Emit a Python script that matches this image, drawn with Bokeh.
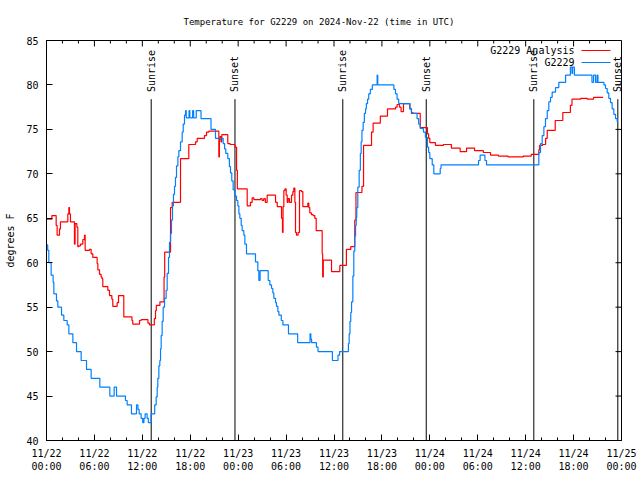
import math
from bokeh.plotting import figure
from bokeh.models import Range1d, Label, Arrow, ColumnDataSource, FixedTicker, LinearAxis
from bokeh.embed import file_html
from bokeh.resources import INLINE
from bokeh.core.properties import value

FONT = "DejaVu Sans Mono"

# ---------------- data (hours since 2024-11-22 00:00 UTC, degrees F) ----------------
obs_t = [0.0, 0.15, 0.29, 0.58, 0.83, 0.92, 1.25, 1.42, 1.88, 2.17, 2.59, 2.80, 3.30, 3.76,
         4.34, 5.01, 5.59, 6.68, 7.93, 8.47, 8.77, 9.89, 10.10, 10.64, 11.27, 11.45, 11.60,
         11.85, 12.05, 12.20, 12.35, 12.60, 12.75, 13.10, 13.55, 13.73, 13.86, 13.94, 14.07,
         14.19, 14.28, 14.36, 14.48, 14.61, 14.78, 14.98, 15.11, 15.28, 15.40, 15.53, 15.65,
         15.78, 15.90, 16.03, 16.15, 16.28, 16.45, 16.57, 16.78, 16.99, 17.12, 17.28, 17.41,
         17.50, 17.85, 17.95, 18.30, 18.42, 18.75, 19.35, 20.60, 21.16, 22.12,
         22.30, 22.45, 22.70, 22.90, 23.04, 23.20, 23.37, 23.58, 23.79, 23.96, 24.09, 24.21,
         24.38, 24.50, 24.71, 24.84, 25.04, 26.17, 26.46, 26.59, 26.75, 27.76, 27.97, 28.18,
         28.34, 28.47, 28.68, 28.80, 28.97, 29.10, 29.40, 29.60, 30.30, 31.45, 33.00, 33.10,
         33.20, 33.80, 34.00, 35.80, 36.50, 36.70, 37.80, 37.90, 38.00, 38.10, 38.20, 38.36,
         38.48, 38.60, 38.70, 38.78, 38.85, 38.98, 39.15, 39.30, 39.40, 39.50, 39.65, 39.80,
         39.95, 40.05, 40.20, 40.35, 40.55, 40.80, 41.40, 41.48, 43.50, 43.70, 43.90, 44.10,
         45.50, 45.70, 45.90, 46.40, 46.60, 46.80, 47.20, 47.45, 47.70, 47.85, 48.00, 48.30,
         48.50, 49.30, 49.40, 54.10, 54.30, 54.90, 55.10, 61.65, 61.86, 62.07, 62.28, 62.48,
         62.70, 62.90, 63.11, 63.32, 63.74, 64.15, 65.00, 65.60, 65.80, 65.88, 66.10, 68.30,
         68.50, 68.75, 68.95, 69.05, 69.80, 70.00, 70.21, 70.41, 70.62, 70.83,
         71.04, 71.25, 71.46, 71.55]
obs_v = [62.0, 61.4, 60.0, 58.6, 57.8, 56.5, 55.7, 55.0, 54.1, 53.5, 53.0, 52.0, 51.0, 50.0,
         49.0, 48.0, 47.0, 46.0, 45.0, 46.0, 45.0, 44.5, 44.0, 43.0, 44.0, 43.5, 43.0,
         42.5, 42.0, 42.5, 43.0, 42.5, 42.0, 43.0, 44.0, 44.9, 46.0, 47.0, 48.4,
         49.0, 50.3, 51.8, 53.4, 55.0, 56.0, 56.9, 58.8, 60.6, 62.3, 63.3, 64.8,
         66.4, 67.7, 68.6, 69.6, 70.9, 71.9, 72.6, 73.6, 74.7, 75.6, 76.6, 77.1,
         76.3, 77.1, 76.3, 77.1, 76.3, 77.1, 76.2, 75.0, 74.0, 73.4,
         72.8, 72.3, 71.7, 70.8, 70.1, 69.2, 68.2, 67.5, 67.0, 66.4, 65.5, 65.0,
         64.2, 63.6, 63.1, 62.1, 61.0, 60.1, 59.1, 58.0, 59.1, 58.0, 57.5, 57.1,
         56.6, 56.0, 55.5, 55.1, 54.5, 54.1, 53.5, 53.0, 52.0, 51.0, 52.0, 51.4,
         51.0, 50.5, 50.0, 49.0, 49.6, 50.0, 50.9, 52.0, 53.4, 54.4, 55.6, 58.5,
         61.3, 63.0, 64.2, 65.1, 66.2, 68.5, 70.4, 72.3, 73.6, 74.9, 75.8, 76.8,
         77.3, 77.9, 78.4, 79.0, 79.5, 80.0, 81.1, 80.0, 79.5, 79.0, 78.4, 77.9,
         77.3, 76.9, 76.8, 76.2, 75.6, 75.1, 74.7, 74.1, 73.0, 72.4, 71.7, 71.0,
         70.0, 70.6, 71.0, 71.5, 72.1, 71.5, 71.0, 72.4, 73.4, 74.3, 75.3, 76.2,
         77.1, 78.1, 78.6, 79.2, 79.7, 80.3, 81.1, 82.0, 81.3, 82.0, 81.1, 80.3,
         81.1, 80.3, 81.1, 80.3, 80.0, 79.6, 79.1, 78.5, 78.0, 77.3,
         76.7, 76.2, 75.9, 75.9]

ana_t = [0.00, 0.67, 1.21, 1.33, 1.63, 1.75, 2.67, 2.80, 2.88, 3.00, 3.50, 3.58, 3.80, 3.92,
         4.05, 4.26, 4.55, 4.76, 4.84, 5.38, 5.59, 5.80, 6.34, 6.43, 6.64, 6.84, 6.95, 7.05,
         7.68, 7.89, 8.18, 8.30, 8.85, 9.02, 9.68, 10.70, 10.80, 11.65, 11.85, 12.70, 12.90,
         13.50, 13.65, 13.75, 14.20, 14.72, 14.80, 15.53, 15.74, 16.78, 17.82, 18.66, 18.87,
         19.78, 20.04, 20.33, 21.58, 21.65, 21.75, 21.85, 21.95, 22.70, 23.00, 23.60, 23.80,
         23.90, 25.13, 25.54, 25.75, 25.96, 26.80, 27.00, 27.20, 27.40, 27.63, 28.68, 28.89,
         29.43, 29.55, 29.62, 29.72, 29.85, 30.01, 30.14, 30.26, 30.43, 30.68, 30.85, 30.97,
         31.10, 31.18, 31.30, 31.50, 31.68, 31.93, 32.10, 32.72, 32.85, 32.97, 33.18, 33.39,
         33.60, 33.77, 34.52, 34.58, 34.66, 35.69, 36.73, 37.55, 38.10, 38.60, 38.75, 39.50,
         39.70, 40.70, 40.90, 41.80, 42.70, 43.70, 43.90, 44.20, 44.40, 44.70, 45.50, 45.70,
         46.80, 47.70, 47.85, 48.00, 48.70, 49.70, 50.70, 51.80, 52.60, 53.60, 54.70, 55.60,
         56.60, 57.80, 59.70, 60.70, 61.65, 61.75, 62.10, 62.50, 62.70, 63.70, 64.65, 65.60,
         65.80, 66.90, 67.70, 68.50, 69.70]
ana_v = [64.9, 65.3, 64.2, 63.1, 63.8, 64.6, 65.5, 66.2, 65.5, 64.6, 62.1, 64.4, 64.0, 61.8,
         61.9, 62.1, 62.6, 63.1, 61.4, 61.5, 61.0, 60.6, 59.9, 59.2, 58.7, 58.4, 58.2, 57.3,
         56.9, 56.3, 55.9, 55.1, 55.5, 56.3, 53.9, 53.5, 53.1, 53.5, 53.6, 53.2, 53.0,
         53.7, 54.6, 55.2, 55.6, 58.4, 61.2, 66.2, 66.8, 71.7, 73.3, 73.6, 74.0,
         74.3, 74.7, 74.8, 71.9, 73.9, 74.2, 73.6, 74.4, 73.4, 73.3, 73.0, 70.4,
         68.3, 66.4, 66.8, 67.3, 67.1, 67.2, 67.0, 67.2, 66.8, 67.6, 66.8, 66.3,
         65.0, 63.4, 66.3, 68.1, 68.3, 67.6, 66.8, 67.2, 66.8, 67.6, 68.0, 68.4,
         66.8, 63.4, 63.1, 63.4, 68.1, 68.0, 66.3, 66.7, 66.2, 65.6, 65.4, 65.3,
         65.0, 63.6, 61.0, 58.4, 60.3, 59.0, 59.7, 61.5, 61.8, 64.8, 67.9, 68.6,
         73.2, 74.7, 75.7, 76.5, 77.3, 77.5, 77.8, 77.5, 77.0, 77.9, 77.3, 76.8,
         75.2, 74.5, 74.0, 73.5, 73.2, 73.3, 72.9, 72.5, 72.9, 72.6, 72.4, 72.1,
         72.0, 71.9, 72.0, 72.2, 72.7, 73.2, 73.3, 74.0, 74.9, 76.0, 76.9, 77.7,
         78.4, 78.5, 78.4, 78.6, 78.6]

sun_t = [13.11, 23.60, 37.10, 47.55, 61.02, 71.54]
sun_labels = ["Sunrise", "Sunset", "Sunrise", "Sunset", "Sunrise", "Sunset"]

x_ticks = [0, 6, 12, 18, 24, 30, 36, 42, 48, 54, 60, 66, 72]
x_tick_labels = ["11/22\n00:00", "11/22\n06:00", "11/22\n12:00", "11/22\n18:00",
                 "11/23\n00:00", "11/23\n06:00", "11/23\n12:00", "11/23\n18:00",
                 "11/24\n00:00", "11/24\n06:00", "11/24\n12:00", "11/24\n18:00",
                 "11/25\n00:00"]
x_minor = [2, 4, 8, 10, 14, 16, 20, 22, 26, 28, 32, 34, 38, 40, 44, 46, 50, 52, 56, 58,
           62, 64, 68, 70]
y_ticks = [40, 45, 50, 55, 60, 65, 70, 75, 80, 85]

TITLE = "Temperature for G2229 on 2024-Nov-22 (time in UTC)"
Y_LABEL = "degrees F"
SERIES = [("G2229 Analysis", "#ff0000"), ("G2229", "#0080ff")]

X0, X1, Y0, Y1 = 0, 72, 40, 85

# ---------------- figure ----------------
W, H = 640, 480
ML, MR, MT, MB = 46, 19, 40, 40
FW, FH = W - ML - MR, H - MT - MB  # frame size in px

p = figure(width=W, height=H, x_range=Range1d(X0, X1), y_range=Range1d(Y0, Y1),
           output_backend="svg", toolbar_location=None,
           min_border_left=ML, min_border_right=MR, min_border_top=MT, min_border_bottom=MB,
           x_axis_location=None, y_axis_location=None)
p.title.text = TITLE
p.title.align = "left"
p.title.offset = 137
p.title.text_font = FONT
p.title.text_font_size = "9px"
p.title.text_font_style = "normal"
p.title.text_color = "black"
p.title.standoff = 28
p.grid.visible = False
p.outline_line_color = "black"
p.outline_line_width = 1
p.background_fill_color = "white"
p.border_fill_color = "white"


def style(ax):
    ax.axis_line_color = "black"
    ax.major_tick_line_color = "black"
    ax.minor_tick_line_color = "black"
    ax.major_tick_in = 6
    ax.major_tick_out = 0
    ax.minor_tick_in = 3
    ax.minor_tick_out = 0
    ax.major_label_text_font = FONT
    ax.major_label_text_font_size = "10px"
    ax.major_label_text_color = "black"


xb = LinearAxis(ticker=FixedTicker(ticks=x_ticks, minor_ticks=x_minor))
style(xb)
xb.major_label_overrides = {t: l for t, l in zip(x_ticks, x_tick_labels)}
xb.major_label_standoff = 7
p.add_layout(xb, "below")

yl = LinearAxis(ticker=FixedTicker(ticks=y_ticks, minor_ticks=[]))
style(yl)
yl.major_label_standoff = 8
yl.axis_label = Y_LABEL
yl.axis_label_text_font = FONT
yl.axis_label_text_font_size = "10px"
yl.axis_label_text_font_style = "normal"
yl.axis_label_text_color = "black"
yl.axis_label_standoff = 7
p.add_layout(yl, "left")

# mirrored inward ticks on top and right edges (tick lengths converted px -> data units)
tx_major = 6 * (X1 - X0) / FW
ty_major = 6 * (Y1 - Y0) / FH
ty_minor = 3 * (Y1 - Y0) / FH
p.segment(x0=x_ticks, y0=Y1, x1=x_ticks, y1=Y1 - ty_major, line_color="black", line_width=1)
p.segment(x0=x_minor, y0=Y1, x1=x_minor, y1=Y1 - ty_minor, line_color="black", line_width=1)
p.segment(x0=X1, y0=y_ticks, x1=X1 - tx_major, y1=y_ticks, line_color="black", line_width=1)

txt = dict(text_font=FONT, text_font_size="10px", text_color="black")

# sunrise / sunset markers
sun_src = ColumnDataSource(dict(t=sun_t, lab=sun_labels))
p.segment(x0="t", y0=Y0, x1="t", y1=78.4, source=sun_src, line_color="black", line_width=1)
p.text(x="t", y=79.2, text="lab", source=sun_src, angle=math.pi / 2,
       text_align="left", text_baseline="middle", text_font=value(FONT),
       text_font_size="10px", text_color="black")

# series
p.step(ana_t, ana_v, mode="after", line_color=SERIES[0][1], line_width=1.2)
p.step(obs_t, obs_v, mode="after", line_color=SERIES[1][1], line_width=1.2)

# legend (text right-aligned, sample at right, like the original)
for i, (lab, col) in enumerate(SERIES):
    ypos = FH - 10 - 12 * i
    p.add_layout(Label(x=FW - 47, y=ypos, x_units="screen", y_units="screen", text=lab,
                       text_align="right", text_baseline="middle", **txt))
    p.add_layout(Arrow(end=None, x_start=FW - 40, y_start=ypos, x_end=FW - 11, y_end=ypos,
                       start_units="screen", end_units="screen", line_color=col,
                       line_width=1.2))

open("out.html", "w").write(file_html(p, INLINE))
